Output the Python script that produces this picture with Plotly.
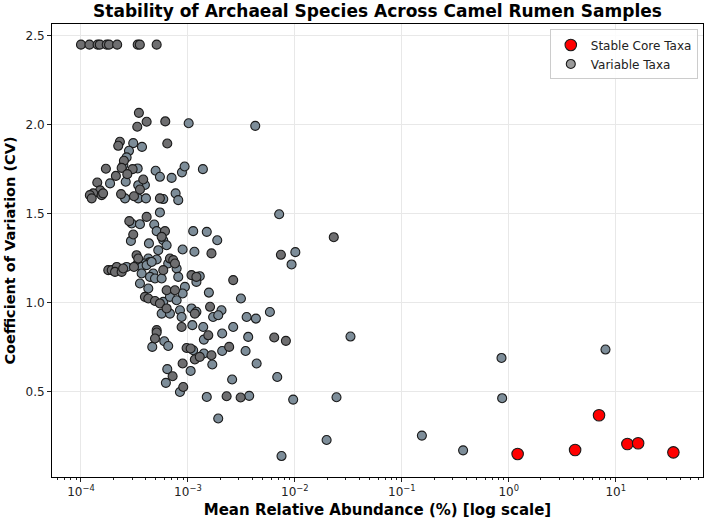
import plotly.graph_objects as go

# ---------------- data ----------------
# Stable core taxa (red)
core_abund = [1.21, 4.17, 6.98, 12.85, 16.2, 34.6]
core_cv = [0.152, 0.174, 0.369, 0.208, 0.212, 0.161]

# Variable taxa, group shown in slate grey
var_a_abund = [
    1.016e-3, 4.26e-3, 3.08e-4, 3.72e-4, 2.81e-4, 2.67e-4, 2.49e-4, 3.39e-4, 4.99e-4, 5.47e-4,
    7.04e-4, 8.79e-4, 9.31e-4, 1.38e-3, 2.62e-4, 1.87e-4, 3.96e-4, 2.58e-4, 3.43e-4, 4.05e-4,
    3.43e-4, 5.88e-4, 7.67e-4, 8.12e-4, 5.47e-4, 2.98e-4, 3.56e-4, 4.84e-4, 5.10e-4, 5.88e-4,
    2.93e-4, 4.32e-4, 5.28e-4, 6.32e-4, 1.12e-3, 1.50e-3, 1.88e-3, 8.92e-4, 1.15e-3, 4.26e-4,
    5.10e-4, 3.96e-4, 4.42e-4, 7.84e-4, 6.54e-4, 2.67e-4, 3.31e-4, 3.69e-4, 4.11e-4, 4.58e-4,
    3.69e-4, 4.74e-4, 4.42e-4, 3.56e-4, 4.26e-4, 4.92e-4, 5.68e-4, 8.12e-4, 1.29e-3, 1.20e-3,
    1.57e-3, 3.13e-3, 5.88e-4, 6.79e-4, 7.84e-4, 9.37e-4, 5.68e-4, 6.79e-4, 8.42e-4, 8.73e-4,
    1.08e-3, 1.20e-3, 1.72e-3, 2.06e-3, 1.92e-3, 2.65e-3, 3.54e-3, 4.32e-3, 1.10e-3, 1.39e-3,
    5.84e-3, 1.41e-3, 2.09e-3, 3.66e-3, 2.09e-3, 3.46e-3, 4.39e-3, 6.84e-3, 9.64e-3, 7.50e-3,
    6.01e-4, 6.54e-4, 4.64e-4, 1.12e-3, 1.41e-3, 1.69e-3, 1.06e-3, 6.41e-4, 6.22e-4, 8.42e-4,
    1.50e-3, 3.74e-3, 2.59e-3, 1.92e-3, 7.13e-3, 1.01e-2, 9.31e-3, 3.31e-2, 2.45e-2, 1.98e-2,
    0.154, 0.374, 0.855, 0.867, 8.02, 8.92e-4,
]
var_a_cv = [
    2.009, 1.994, 1.897, 1.876, 1.854, 1.817, 1.774, 1.755, 1.742, 1.708,
    1.702, 1.733, 1.766, 1.751, 1.680, 1.671, 1.662, 1.587, 1.587, 1.587,
    1.661, 1.583, 1.615, 1.577, 1.508, 1.446, 1.442, 1.440, 1.403, 1.352,
    1.348, 1.334, 1.296, 1.324, 1.403, 1.399, 1.352, 1.300, 1.287, 1.249,
    1.244, 1.221, 1.230, 1.193, 1.221, 1.202, 1.212, 1.202, 1.212, 1.230,
    1.165, 1.165, 1.146, 1.109, 1.081, 1.137, 1.137, 1.146, 1.150, 1.118,
    1.058, 1.025, 1.006, 1.034, 1.015, 1.090, 0.940, 0.940, 0.959, 0.921,
    0.969, 0.950, 0.921, 0.959, 0.931, 0.865, 0.921, 0.912, 0.875, 0.865,
    0.949, 0.794, 0.828, 0.809, 0.730, 0.730, 0.660, 0.584, 0.457, 0.140,
    0.785, 0.758, 0.753, 0.734, 0.716, 0.654, 0.618, 0.628, 0.551, 0.500,
    0.472, 0.478, 0.570, 0.351, 1.498, 1.285, 1.216, 0.811, 0.470, 0.230,
    0.255, 0.172, 0.691, 0.465, 0.738, 1.053,
]

# Variable taxa, group shown in darker neutral grey
var_b_abund = [
    1.0e-4, 1.2e-4, 1.43e-4, 1.5e-4, 1.74e-4, 1.83e-4, 2.18e-4, 3.39e-4, 3.55e-4, 5.1e-4,
    3.48e-4, 4.11e-4, 3.36e-4, 6.14e-4, 2.31e-4, 2.23e-4, 6.41e-4, 2.52e-4, 1.71e-4, 2.40e-4,
    3.04e-4, 2.71e-4, 2.12e-4, 1.42e-4, 3.82e-4, 1.51e-4, 1.30e-4, 1.21e-4, 1.56e-4, 1.26e-4,
    1.61e-4, 2.37e-4, 3.13e-4, 3.56e-4, 5.47e-4, 2.83e-4, 4.11e-4, 6.10e-4, 5.68e-4, 3.08e-4,
    1.66e-3, 3.31e-4, 3.43e-4, 6.79e-4, 7.29e-4, 7.56e-4, 1.80e-4, 1.94e-4, 2.16e-4, 2.08e-4,
    2.40e-4, 2.48e-4, 3.13e-4, 5.88e-4, 1.08e-3, 1.20e-3, 2.65e-3, 3.96e-4, 4.26e-4, 4.92e-4,
    5.47e-4, 6.32e-4, 7.56e-4, 6.32e-4, 1.16e-3, 1.61e-3, 5.10e-4, 8.73e-4, 1.55e-3, 2.43e-3,
    6.41e-3, 8.24e-3, 5.10e-4, 4.92e-4, 9.72e-4, 1.06e-3, 1.16e-3, 1.29e-3, 1.66e-3, 8.92e-4,
    7.19e-4, 9.04e-4, 2.30e-3, 3.11e-3, 2.31e-2, 7.40e-3,
]
var_b_cv = [
    2.45, 2.45, 2.45, 2.45, 2.45, 2.45, 2.45, 2.45, 2.45, 2.45,
    2.067, 2.017, 1.989, 2.019, 1.905, 1.882, 1.895, 1.798, 1.753, 1.758,
    1.751, 1.723, 1.713, 1.676, 1.693, 1.632, 1.615, 1.605, 1.605, 1.587,
    1.615, 1.611, 1.599, 1.637, 1.587, 1.459, 1.483, 1.403, 1.371, 1.384,
    1.278, 1.268, 1.249, 1.249, 1.240, 1.221, 1.184, 1.184, 1.202, 1.174,
    1.174, 1.193, 1.202, 1.184, 1.156, 1.146, 1.128, 1.034, 1.025, 1.011,
    0.997, 1.071, 1.071, 0.969, 0.940, 0.978, 0.847, 0.865, 0.818, 0.753,
    0.806, 0.787, 0.834, 0.800, 0.747, 0.744, 0.682, 0.697, 0.706, 0.660,
    0.588, 0.528, 0.476, 0.469, 1.369, 1.270,
]

x_tick_vals = [1e-4, 1e-3, 1e-2, 1e-1, 1, 10]
x_tick_text = ["10<sup>\u22124</sup>", "10<sup>\u22123</sup>", "10<sup>\u22122</sup>",
               "10<sup>\u22121</sup>", "10<sup>0</sup>", "10<sup>1</sup>"]
y_tick_vals = [0.5, 1.0, 1.5, 2.0, 2.5]
y_tick_text = ["0.5", "1.0", "1.5", "2.0", "2.5"]

# ---------------- figure ----------------
FONT = "DejaVu Sans"
minor_vals = [m * 10.0 ** e for e in range(-5, 2) for m in range(2, 10)]

fig = go.Figure()

fig.add_trace(go.Scatter(
    x=var_a_abund, y=var_a_cv, mode="markers", showlegend=False,
    marker=dict(size=9, color="#7d8d99", line=dict(color="#1a1a1a", width=1.1)),
    hoverinfo="x+y",
))
fig.add_trace(go.Scatter(
    x=var_b_abund, y=var_b_cv, mode="markers", showlegend=False,
    marker=dict(size=9, color="#6e6e70", line=dict(color="#1a1a1a", width=1.1)),
    hoverinfo="x+y",
))
fig.add_trace(go.Scatter(
    x=core_abund, y=core_cv, mode="markers", name="Stable Core Taxa", legendrank=1,
    marker=dict(size=11.5, color="#ff0000", line=dict(color="#1a1a1a", width=1.1)),
))
# legend proxy for variable taxa
fig.add_trace(go.Scatter(
    x=[None], y=[None], mode="markers", name="Variable Taxa", legendrank=2,
    marker=dict(size=9, color="#9a9a9a", line=dict(color="#1a1a1a", width=1.1)),
))

fig.update_layout(
    width=708, height=521,
    margin=dict(l=52, r=5, t=24, b=44),
    paper_bgcolor="white", plot_bgcolor="white",
    font=dict(family=FONT, size=12, color="#222"),
    title=dict(text="<b>Stability of Archaeal Species Across Camel Rumen Samples</b>",
               x=0.5, xref="paper", xanchor="center",
               y=1 - 11.5 / 521, yref="container", yanchor="middle",
               font=dict(family=FONT, size=17, color="black")),
    legend=dict(x=0.992, y=0.988, xanchor="right", yanchor="top",
                bgcolor="rgba(255,255,255,0.85)", bordercolor="#cccccc", borderwidth=1,
                font=dict(family=FONT, size=12, color="#222"), itemsizing="trace",
                tracegroupgap=0),
    showlegend=True,
)

fig.update_xaxes(
    type="log", range=[-4.271, 1.816],
    tickmode="array", tickvals=x_tick_vals, ticktext=x_tick_text,
    ticks="outside", ticklen=4, tickwidth=1, tickcolor="#222",
    showline=True, linecolor="black", linewidth=1, mirror=True,
    showgrid=True, gridcolor="#e8e8e8", gridwidth=1, zeroline=False,
    minor=dict(tickmode="array", tickvals=minor_vals, ticks="outside", ticklen=2,
               tickwidth=0.8, tickcolor="#222", showgrid=False),
    tickfont=dict(family=FONT, size=12, color="#222"),
    title=dict(text="<b>Mean Relative Abundance (%) [log scale]</b>",
               font=dict(family=FONT, size=15, color="black"), standoff=6),
)
fig.update_yaxes(
    range=[0.0225, 2.566],
    tickmode="array", tickvals=y_tick_vals, ticktext=y_tick_text,
    ticks="outside", ticklen=4, tickwidth=1, tickcolor="#222",
    showline=True, linecolor="black", linewidth=1, mirror=True,
    showgrid=True, gridcolor="#e8e8e8", gridwidth=1, zeroline=False,
    tickfont=dict(family=FONT, size=12, color="#222"),
    title=dict(text="<b>Coefficient of Variation (CV)</b>",
               font=dict(family=FONT, size=14.5, color="black"), standoff=6),
)

fig.write_html("out.html")
